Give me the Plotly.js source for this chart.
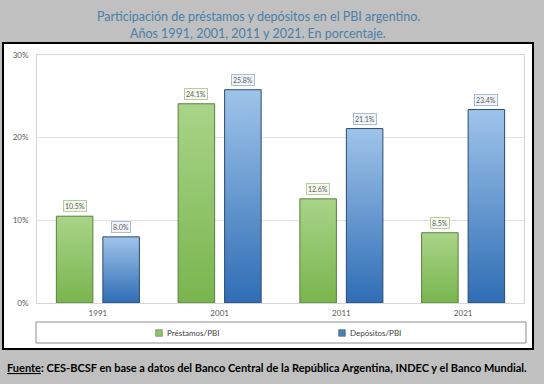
<!DOCTYPE html>
<html>
<head>
<meta charset="utf-8">
<script src="https://cdn.plot.ly/plotly-3.0.1.min.js"></script>
<style>html,body{margin:0;padding:0;background:#c0c0c0;}</style>
</head>
<body>
<div id="chart" style="width:544px;height:384px;"></div>
<script>
const years = ['1991', '2001', '2011', '2021'];
const prestamos = [10.5, 24.1, 12.6, 8.5];
const depositos = [8.0, 25.8, 21.1, 23.4];
const seriesNames = ['Préstamos/PBI', 'Depósitos/PBI'];
const yTicks = [0, 10, 20, 30];

const bargap = 0.236;
const off = (1 - bargap) / 4;

const traces = [
  {type: 'bar', name: seriesNames[0], x: years, y: prestamos,
   marker: {color: '#8dc567', line: {color: '#5b7f3e', width: 1}}, hoverinfo: 'none'},
  {type: 'bar', name: seriesNames[1], x: years, y: depositos,
   marker: {color: '#5590cf', line: {color: '#2c4a6a', width: 1}}, hoverinfo: 'none'}
];

const annotations = [];
function fmt(v){ return v.toFixed(1) + '%'; }
prestamos.forEach((v, i) => annotations.push({
  x: i - off, y: v, xref: 'x', yref: 'y', text: fmt(v), showarrow: false,
  yanchor: 'bottom', yshift: 4, font: {family: 'Lato', size: 7, color: '#606060'},
  bgcolor: '#f4f8ee', bordercolor: '#b5cf9a', borderwidth: 1, borderpad: 1
}));
depositos.forEach((v, i) => annotations.push({
  x: i + off, y: v, xref: 'x', yref: 'y', text: fmt(v), showarrow: false,
  yanchor: 'bottom', yshift: 4, font: {family: 'Lato', size: 7, color: '#606060'},
  bgcolor: '#f0f4f9', bordercolor: '#a9bdd3', borderwidth: 1, borderpad: 1
}));

const W = 487, H = 248, L = 37, T = 55;
function px(x){ return (x - L) / W; }
function py(y){ return (T + H - y) / H; }
annotations.push({xref: 'paper', yref: 'paper', x: px(258), y: py(17), text: 'Participación de préstamos y depósitos en el PBI argentino.',
  showarrow: false, font: {family: 'Lato', size: 12.5, color: '#4a7fa8'}, xanchor: 'center', yanchor: 'middle'});
annotations.push({xref: 'paper', yref: 'paper', x: px(258), y: py(33), text: 'Años 1991, 2001, 2011 y 2021. En porcentaje.',
  showarrow: false, font: {family: 'Lato', size: 12.5, color: '#4a7fa8'}, xanchor: 'center', yanchor: 'middle'});
annotations.push({xref: 'paper', yref: 'paper', x: px(5), y: py(367),
  text: '<b><u>Fuente</u>: CES-BCSF en base a datos del Banco Central de la República Argentina, INDEC y el Banco Mundial.</b>',
  showarrow: false, font: {family: 'Lato', size: 11, color: '#000000'}, xanchor: 'left', yanchor: 'middle'});

const layout = {
  width: 544, height: 384,
  margin: {l: L, r: 544 - L - W, t: T, b: 384 - T - H, pad: 0, autoexpand: false},
  paper_bgcolor: '#c0c0c0',
  plot_bgcolor: 'rgba(0,0,0,0)',
  barmode: 'group', bargap: bargap, bargroupgap: 0.215,
  showlegend: true,
  legend: {orientation: 'h', x: px(493), xanchor: 'right', y: py(333), yanchor: 'middle',
    bgcolor: 'rgba(0,0,0,0)', font: {family: 'Lato', size: 8, color: '#404040'},
    entrywidth: 138, entrywidthmode: 'pixels', itemwidth: 30, itemclick: false},
  xaxis: {type: 'category', showline: true, mirror: true, linecolor: '#d6d6d6', linewidth: 1,
    showgrid: false, ticks: 'outside', ticklen: 2, tickcolor: 'rgba(0,0,0,0)',
    tickfont: {family: 'Lato', size: 8, color: '#595959'}, fixedrange: true},
  yaxis: {range: [0, 30], tickvals: yTicks, ticktext: yTicks.map(t => t + '%'),
    showline: true, mirror: true, linecolor: '#d6d6d6', linewidth: 1,
    showgrid: true, gridcolor: '#e3e3e3', zeroline: false,
    ticks: 'outside', ticklen: 6, tickcolor: 'rgba(0,0,0,0)',
    tickfont: {family: 'Lato', size: 8, color: '#595959'}, fixedrange: true},
  shapes: [
    {type: 'rect', xref: 'paper', yref: 'paper', x0: px(3), x1: px(533), y0: py(349), y1: py(43),
     fillcolor: '#ffffff', line: {color: '#000000', width: 2}, layer: 'below'},
    {type: 'rect', xref: 'paper', yref: 'paper', x0: px(36), x1: px(526), y0: py(343), y1: py(322),
     fillcolor: 'rgba(0,0,0,0)', line: {color: '#8c8c8c', width: 1}, layer: 'above'}
  ],
  annotations: annotations
};

Plotly.newPlot('chart', traces, layout, {displayModeBar: false, staticPlot: true}).then(gd => {
  const svg = gd.querySelector('svg.main-svg');
  const ns = 'http://www.w3.org/2000/svg';
  let defs = svg.querySelector('defs');
  if (!defs) { defs = document.createElementNS(ns, 'defs'); svg.insertBefore(defs, svg.firstChild); }
  function grad(id, c1, c2) {
    const g = document.createElementNS(ns, 'linearGradient');
    g.setAttribute('id', id); g.setAttribute('x1', '0'); g.setAttribute('y1', '0');
    g.setAttribute('x2', '0'); g.setAttribute('y2', '1');
    [[0, c1], [1, c2]].forEach(([o, c]) => {
      const s = document.createElementNS(ns, 'stop');
      s.setAttribute('offset', o); s.setAttribute('stop-color', c); g.appendChild(s);
    });
    defs.appendChild(g);
  }
  grad('gradG', '#a8d488', '#79b54e');
  grad('gradB', '#9fc4ea', '#2f6db5');
  const ids = ['gradG', 'gradB'];
  gd.querySelectorAll('.barlayer .trace.bars').forEach((tg, k) => {
    tg.querySelectorAll('.point path').forEach(p => { p.style.fill = 'url(#' + ids[k] + ')'; });
  });
  // compact legend symbols next to their text
  const legColors = ['#8dc567', '#4f7fb8'];
  const legLines = ['#4f6f38', '#2c4a6a'];
  gd.querySelectorAll('.legend .traces').forEach((tr, k) => {
    tr.querySelectorAll('.legendpoints path').forEach(p => {
      p.setAttribute('transform', 'translate(32,0) scale(0.55)');
      p.style.fill = legColors[k];
      p.style.stroke = legLines[k];
    });
  });
});
</script>
</body>
</html>
